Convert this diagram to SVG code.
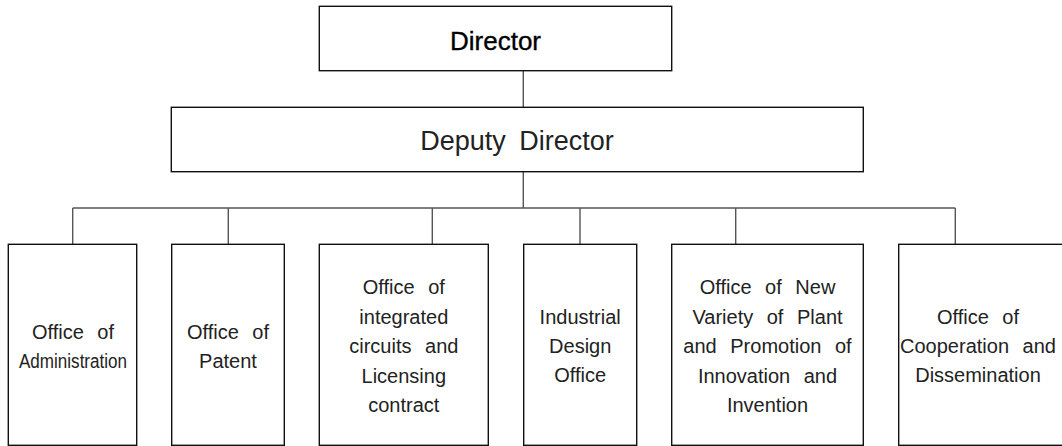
<svg xmlns="http://www.w3.org/2000/svg" width="1062" height="446" viewBox="0 0 1062 446">
<style>
.box{fill:#fff;stroke:#111;stroke-width:1.4}
.con{fill:none;stroke:#555;stroke-width:1.4}
text{font-family:"Liberation Sans",Arial,sans-serif;text-anchor:middle;fill:#222}
.t{font-size:20px;word-spacing:8px}
.top{font-size:26px;fill:#000;stroke:#000;stroke-width:0.35}
.dep{font-size:27px;word-spacing:6px}
</style>
<rect x="0" y="0" width="1062" height="446" fill="#fff"/>
<g id="connectors">
<path class="con" d="M523.3 71V107M523.3 172V208M72.7 208H955.3M72.7 208V244M228.3 208V244M432.3 208V244M580 208V244M735.7 208V244M955.3 208V244"/>
</g>
<g id="director">
<rect class="box" x="319.3" y="6.3" width="352.4" height="64.4"/>
<text class="top" x="495.5" y="49.5">Director</text>
</g>
<g id="deputy">
<rect class="box" x="171.3" y="107.3" width="692" height="64.4"/>
<text class="dep" x="517" y="149.5">Deputy Director</text>
</g>
<g id="admin">
<rect class="box" x="8.3" y="244.3" width="128.4" height="201"/>
<text class="t" x="73" y="338.5">Office of</text>
<text class="t" x="73" y="367.5" textLength="108" lengthAdjust="spacingAndGlyphs">Administration</text>
</g>
<g id="patent">
<rect class="box" x="171.7" y="244.3" width="112.6" height="201"/>
<text class="t" x="228" y="338.5">Office of</text>
<text class="t" x="228" y="367.5">Patent</text>
</g>
<g id="ic">
<rect class="box" x="319.3" y="244.3" width="169" height="201"/>
<text class="t" x="403.8" y="294">Office of</text>
<text class="t" x="403.8" y="323.5">integrated</text>
<text class="t" x="403.8" y="353">circuits and</text>
<text class="t" x="403.8" y="382.5">Licensing</text>
<text class="t" x="403.8" y="412">contract</text>
</g>
<g id="design">
<rect class="box" x="523.7" y="244.3" width="113" height="201"/>
<text class="t" x="580.2" y="324">Industrial</text>
<text class="t" x="580.2" y="353">Design</text>
<text class="t" x="580.2" y="382">Office</text>
</g>
<g id="plant">
<rect class="box" x="671.7" y="244.3" width="191.6" height="201"/>
<text class="t" x="767.5" y="294">Office of New</text>
<text class="t" x="767.5" y="323.5">Variety of Plant</text>
<text class="t" x="767.5" y="353">and Promotion of</text>
<text class="t" x="767.5" y="382.5">Innovation and</text>
<text class="t" x="767.5" y="412">Invention</text>
</g>
<g id="coop">
<rect class="box" x="898.7" y="244.3" width="170" height="201"/>
<text class="t" x="978" y="324">Office of</text>
<text class="t" x="978" y="353">Cooperation and</text>
<text class="t" x="978" y="382">Dissemination</text>
</g>
</svg>
